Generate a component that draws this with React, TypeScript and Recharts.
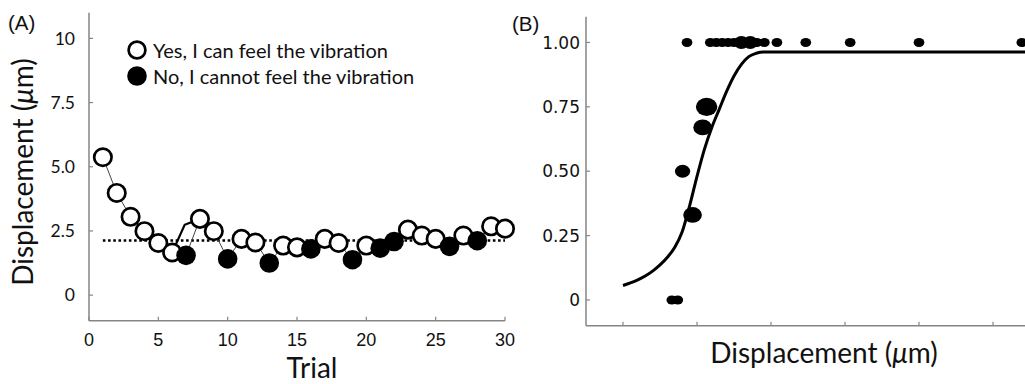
import React from 'react';
import { ComposedChart, Line, Scatter, XAxis, YAxis, ReferenceLine, Legend } from 'recharts';

// ---------- Panel A data ----------
const trials = [1, 2, 3, 4, 5, 6, 7, 8, 9, 10, 11, 12, 13, 14, 15, 16, 17, 18, 19, 20, 21, 22, 23, 24, 25, 26, 27, 28, 29, 30];
const displacement = [5.37, 3.98, 3.05, 2.49, 2.03, 1.66, 1.55, 2.97, 2.49, 1.41, 2.19, 2.05, 1.25, 1.93, 1.86, 1.8, 2.19, 2.03, 1.38, 1.93, 1.83, 2.09, 2.55, 2.32, 2.19, 1.9, 2.32, 2.12, 2.68, 2.59];
const felt = [1, 1, 1, 1, 1, 1, 0, 1, 1, 0, 1, 1, 0, 1, 1, 0, 1, 1, 0, 1, 0, 0, 1, 1, 1, 0, 1, 0, 1, 1];
const stepTrial = [6, 6.9, 8];
const stepValue = [1.66, 2.74, 2.97];
const threshold = 2.13;
const thresholdStart = 1;
const thresholdEnd = 30;
const aXTicks = [0, 5, 10, 15, 20, 25, 30];
const aYTicks = [0, 2.5, 5, 7.5, 10];
const aYTickLabels = ['0', '2.5', '5.0', '7.5', '10'];
const legendLabels = ['Yes, I can feel the vibration', 'No, I cannot feel the vibration'];

// ---------- Panel B data ----------
const bX = [1.66, 1.74, 1.805, 1.94, 2.076, 2.13, 1.865, 2.18, 2.26, 2.34, 2.42, 2.5, 2.6, 2.72, 2.81, 2.91, 3.08, 3.47, 4.07, 5.0, 6.39];
const bY = [0, 0, 0.5, 0.33, 0.67, 0.75, 1, 1, 1, 1, 1, 1, 1, 1, 1, 1, 1, 1, 1, 1, 1];
const bCount = [1, 1, 2, 3, 3, 4, 1, 1, 1, 1, 1, 1, 2, 2, 1, 1, 1, 1, 1, 1, 1];
const curveX = [1.0, 1.1, 1.2, 1.3, 1.4, 1.5, 1.6, 1.7, 1.8, 1.9, 2.0, 2.1, 2.2, 2.3, 2.4, 2.5, 2.6, 2.7, 2.8, 2.9, 3.2, 4.5, 6.5];
const curveY = [0.056, 0.066, 0.078, 0.093, 0.112, 0.136, 0.166, 0.205, 0.265, 0.365, 0.48, 0.585, 0.67, 0.74, 0.81, 0.87, 0.915, 0.945, 0.958, 0.963, 0.963, 0.963, 0.963];
const bXTicks = [1, 2, 3, 4, 5, 6];
const bYTicks = [0, 0.25, 0.5, 0.75, 1];
const bYTickLabels = ['0', '0.25', '0.50', '0.75', '1.00'];

const dataA = trials.map((t, i) => ({ trial: t, disp: displacement[i], felt: felt[i] }));
const stepData = stepTrial.map((t, i) => ({ trial: t, step: stepValue[i] }));
const pointsB = bX.map((x, i) => ({ x, y: bY[i], count: bCount[i] }));
const curveB = curveX.map((x, i) => ({ x, p: curveY[i] }));

const AXIS = '#858585';
const CAL = 'Lato, "Open Sans", sans-serif';

const makeYTick = (labels: string[], values: number[], font: string, size: number, margin: number) => (props: any) => {
  const { x, y, payload } = props;
  const idx = values.indexOf(payload.value);
  const ax = x + margin;
  return (
    <g>
      <line x1={ax} x2={ax + 4} y1={y} y2={y} stroke={AXIS} strokeWidth={1.2} />
      <text x={x} y={y} dy="0.36em" textAnchor="end" fontFamily={font} fontSize={size} fill="#111">
        {idx >= 0 ? labels[idx] : payload.value}
      </text>
    </g>
  );
};

const makeXTick = (showLabel: boolean, margin: number) => (props: any) => {
  const { x, y, payload } = props;
  const ay = y - margin;
  return (
    <g>
      <line x1={x} x2={x} y1={ay} y2={ay - 4} stroke={AXIS} strokeWidth={1.2} />
      {showLabel && (
        <text x={x} y={y} dy="0.72em" textAnchor="middle" fontFamily='"Liberation Sans", Arial, sans-serif' fontSize={18} fill="#111">
          {payload.value}
        </text>
      )}
    </g>
  );
};

const renderDotA = (props: any) => {
  const { cx, cy, payload, index } = props;
  if (payload.felt) {
    return <circle key={`d${index}`} cx={cx} cy={cy} r={8.7} fill="#fff" stroke="#000" strokeWidth={2.7} />;
  }
  return <circle key={`d${index}`} cx={cx} cy={cy} r={9.8} fill="#000" stroke="none" />;
};

const LegendA = () => (
  <div style={{ fontFamily: CAL, fontSize: 20, color: '#111' }}>
    {legendLabels.map((t, i) => (
      <div key={t} style={{ display: 'flex', alignItems: 'center', height: 26 }}>
        <svg width={20} height={22} style={{ display: 'block' }}>
          {i === 0 ? (
            <circle cx={10} cy={11} r={8.4} fill="#fff" stroke="#000" strokeWidth={2.7} />
          ) : (
            <circle cx={10} cy={11} r={9.8} fill="#000" />
          )}
        </svg>
        <span style={{ marginLeft: 6, whiteSpace: 'nowrap' }}>{t}</span>
      </div>
    ))}
  </div>
);

const ellipseShape = (props: any) => {
  const { cx, cy, payload } = props;
  const r = 4.8 * Math.sqrt(payload.count);
  return <ellipse cx={cx} cy={cy} rx={r * 1.12} ry={r * 0.95} fill="#000" />;
};

const dispLabel = (x: number, y: number, rotate: boolean) => (
  <text
    x={x}
    y={y}
    textAnchor="middle"
    fontFamily={CAL}
    fontSize={28}
    fill="#111"
    transform={rotate ? `rotate(-90 ${x} ${y})` : undefined}
  >
    Displacement (<tspan fontStyle="italic">μ</tspan>m)
  </text>
);

export default function App() {
  return (
    <div style={{ position: 'absolute', left: 0, top: 0, width: 1025, height: 384, overflow: 'hidden', background: '#fff' }}>
      <div style={{ position: 'absolute', left: 8, top: 12, fontFamily: '"Liberation Sans", Arial, sans-serif', fontSize: 20.5, lineHeight: '21px', color: '#111' }}>(A)</div>
      <div style={{ position: 'absolute', left: 512, top: 13, fontFamily: '"Liberation Sans", Arial, sans-serif', fontSize: 20.5, lineHeight: '21px', color: '#111' }}>(B)</div>

      <div style={{ position: 'absolute', left: 0, top: 0 }}>
        <ComposedChart width={520} height={384} data={dataA} margin={{ top: 12.7, right: 15, bottom: 33.2, left: 49 }}>
          <XAxis
            dataKey="trial"
            type="number"
            domain={[0, 30]}
            ticks={aXTicks}
            height={30}
            axisLine={{ stroke: AXIS, strokeWidth: 1.5 }}
            tickLine={false}
            tickSize={0}
            tickMargin={12}
            tick={makeXTick(true, 12)}
            label={{
              content: () => (
                <text x={312} y={378} textAnchor="middle" fontFamily={CAL} fontSize={28} fill="#111">Trial</text>
              ),
            }}
          />
          <YAxis
            type="number"
            domain={[-1, 11]}
            ticks={aYTicks}
            width={40}
            axisLine={{ stroke: AXIS, strokeWidth: 1.5 }}
            tickLine={false}
            tickSize={0}
            tickMargin={14}
            tick={makeYTick(aYTickLabels, aYTicks, CAL, 17.5, 14)}
            label={{ content: () => dispLabel(33, 172, true) }}
          />
          <ReferenceLine
            segment={[{ x: thresholdStart, y: threshold }, { x: thresholdEnd, y: threshold }]}
            stroke="#000"
            strokeWidth={2.6}
            strokeDasharray="2.6 2.6"
          />
          <Line data={stepData} dataKey="step" type="linear" stroke="#000" strokeWidth={2.2} dot={false} isAnimationActive={false} />
          <Line dataKey="disp" type="linear" stroke="#444" strokeWidth={1} dot={renderDotA} activeDot={false} isAnimationActive={false} />
          <Legend
            layout="horizontal"
            verticalAlign="middle"
            align="center"
            content={() => <LegendA />}
            wrapperStyle={{ left: 127, top: 37, bottom: 'auto', width: 340, height: 52 }}
          />
        </ComposedChart>
      </div>

      <div style={{ position: 'absolute', left: 500, top: 0 }}>
        <ComposedChart width={530} height={384} margin={{ top: 16.7, right: 0, bottom: 28.3, left: 46 }}>
          <XAxis
            dataKey="x"
            type="number"
            domain={[0.5, 6.5]}
            ticks={bXTicks}
            height={30}
            axisLine={{ stroke: AXIS, strokeWidth: 1.5 }}
            tickLine={false}
            tickSize={0}
            tickMargin={12}
            tick={makeXTick(false, 12)}
            label={{ content: () => dispLabel(324, 363, false) }}
          />
          <YAxis
            type="number"
            domain={[-0.1, 1.1]}
            ticks={bYTicks}
            width={40}
            axisLine={{ stroke: AXIS, strokeWidth: 1.5 }}
            tickLine={false}
            tickSize={0}
            tickMargin={6}
            tick={makeYTick(bYTickLabels, bYTicks, '"DejaVu Sans", Verdana, sans-serif', 17, 6)}
          />
          <Line data={curveB} dataKey="p" type="monotone" stroke="#000" strokeWidth={3} dot={false} activeDot={false} isAnimationActive={false} />
          <Scatter data={pointsB} dataKey="y" shape={ellipseShape} isAnimationActive={false} />
        </ComposedChart>
      </div>
    </div>
  );
}
